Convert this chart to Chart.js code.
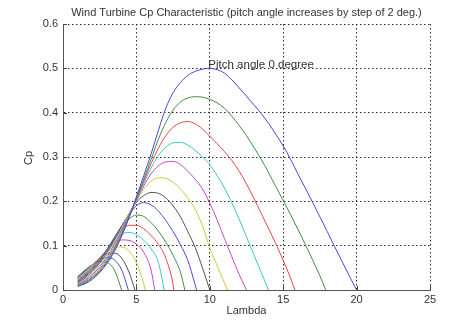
<!DOCTYPE html>
<html>
<head>
<meta charset="utf-8">
<script src="https://cdn.jsdelivr.net/npm/chart.js@4.4.1/dist/chart.umd.min.js"></script>
<style>
  html, body { margin: 0; padding: 0; background: #ffffff; }
  canvas { display: block; }
</style>
</head>
<body>
<canvas id="cpChart" width="474" height="325"></canvas>
<script>
// Tip speed ratio grid shared by every curve (step 0.5 starting at 1)
const lambdaStart = 1;
const lambdaStep = 0.5;

// Pitch angles in degrees, one curve each
const pitchAngles = [0, 2, 4, 6, 8, 10, 12, 14, 16, 18, 20, 22, 24, 26, 28, 30];

// Tip speed ratio where each curve reaches Cp = 0
const zeroLambda = [20, 17.9, 15.8, 14.0, 12.5, 11.2, 10.0, 9.1, 8.3, 7.55, 6.9, 6.25, 5.6, 4.9, 4.45, 4.0];

// Power coefficient for each pitch angle, on the lambda grid
const cpPitch0  = [0.008,0.014,0.024,0.039,0.060,0.087,0.122,0.163,0.210,0.258,0.307,0.360,0.410,0.445,0.468,0.484,0.493,0.498,0.500,0.497,0.489,0.474,0.456,0.437,0.418,0.398,0.376,0.351,0.325,0.295,0.262,0.230,0.198,0.165,0.132,0.098,0.065,0.032];
const cpPitch2  = [0.010,0.016,0.027,0.042,0.063,0.090,0.125,0.165,0.207,0.250,0.295,0.340,0.378,0.406,0.424,0.433,0.436,0.435,0.430,0.422,0.410,0.392,0.371,0.348,0.322,0.295,0.265,0.233,0.202,0.170,0.137,0.103,0.068,0.032];
const cpPitch4  = [0.011,0.018,0.029,0.045,0.066,0.094,0.128,0.166,0.205,0.245,0.285,0.320,0.348,0.367,0.377,0.380,0.375,0.363,0.347,0.330,0.312,0.292,0.268,0.239,0.207,0.173,0.139,0.104,0.067,0.027];
const cpPitch6  = [0.012,0.020,0.032,0.048,0.070,0.098,0.132,0.168,0.203,0.240,0.275,0.303,0.322,0.332,0.333,0.327,0.315,0.300,0.283,0.258,0.230,0.197,0.160,0.120,0.080,0.040];
const cpPitch8  = [0.013,0.022,0.035,0.052,0.075,0.103,0.136,0.170,0.202,0.235,0.262,0.280,0.289,0.290,0.283,0.268,0.250,0.228,0.196,0.158,0.116,0.075,0.035];
const cpPitch10 = [0.014,0.024,0.038,0.056,0.080,0.108,0.140,0.172,0.200,0.228,0.245,0.253,0.252,0.243,0.228,0.208,0.182,0.145,0.095,0.055,0.016];
const cpPitch12 = [0.016,0.027,0.042,0.061,0.085,0.113,0.143,0.172,0.198,0.213,0.220,0.218,0.208,0.190,0.165,0.132,0.096,0.050];
const cpPitch14 = [0.018,0.030,0.045,0.065,0.090,0.118,0.145,0.170,0.190,0.197,0.192,0.178,0.157,0.132,0.102,0.067,0.012];
const cpPitch16 = [0.020,0.032,0.048,0.068,0.092,0.118,0.142,0.160,0.169,0.166,0.152,0.133,0.108,0.078,0.040];
const cpPitch18 = [0.022,0.034,0.050,0.070,0.092,0.115,0.135,0.146,0.146,0.138,0.123,0.103,0.072,0.012];
const cpPitch20 = [0.024,0.036,0.052,0.070,0.090,0.110,0.126,0.130,0.125,0.112,0.093,0.062];
const cpPitch22 = [0.026,0.038,0.054,0.072,0.090,0.105,0.113,0.112,0.103,0.085,0.045];
const cpPitch24 = [0.027,0.040,0.056,0.073,0.088,0.097,0.097,0.088,0.062,0.014];
const cpPitch26 = [0.028,0.042,0.057,0.072,0.082,0.083,0.072,0.040];
const cpPitch28 = [0.029,0.043,0.057,0.068,0.073,0.068,0.045];
const cpPitch30 = [0.030,0.045,0.057,0.064,0.062,0.045];

const cpSeries = [cpPitch0, cpPitch2, cpPitch4, cpPitch6, cpPitch8, cpPitch10, cpPitch12, cpPitch14,
                  cpPitch16, cpPitch18, cpPitch20, cpPitch22, cpPitch24, cpPitch26, cpPitch28, cpPitch30];

// Axis tick labels
const xTickLabels = ['0', '5', '10', '15', '20', '25'];
const yTickLabels = ['0', '0.1', '0.2', '0.3', '0.4', '0.5', '0.6'];

// Cycling line colours
const lineColors = ['#4646e0', '#3f8f3f', '#ef4242', '#38c6c6', '#c646c6', '#c9c93c', '#505050'];

const FONT = "'Liberation Sans', Arial, Helvetica, sans-serif";
const TEXT_COLOR = '#333333';

const datasets = pitchAngles.map((beta, i) => {
  const pts = cpSeries[i].map((cp, k) => ({ x: lambdaStart + k * lambdaStep, y: cp }));
  pts.push({ x: zeroLambda[i], y: 0 });
  return {
    label: 'Pitch ' + beta + ' deg',
    data: pts,
    borderColor: lineColors[i % lineColors.length],
    borderWidth: 1,
    pointRadius: 0,
    fill: false,
    cubicInterpolationMode: 'monotone'
  };
});

// Short inward tick marks on the left and bottom axes
const innerTicksPlugin = {
  id: 'innerTicks',
  afterDatasetsDraw(chart) {
    const ctx = chart.ctx;
    const area = chart.chartArea;
    ctx.save();
    ctx.strokeStyle = '#444444';
    ctx.lineWidth = 1;
    ctx.beginPath();
    chart.scales.x.ticks.forEach((t) => {
      const px = Math.round(chart.scales.x.getPixelForValue(t.value)) + 0.5;
      ctx.moveTo(px, area.bottom);
      ctx.lineTo(px, area.bottom - 4);
    });
    chart.scales.y.ticks.forEach((t) => {
      const py = Math.round(chart.scales.y.getPixelForValue(t.value)) + 0.5;
      ctx.moveTo(area.left, py);
      ctx.lineTo(area.left + 4, py);
    });
    ctx.stroke();
    ctx.restore();
  }
};

// Title, axis names and the curve annotation
const labelsPlugin = {
  id: 'plotTexts',
  afterDraw(chart) {
    const ctx = chart.ctx;
    const area = chart.chartArea;
    const xs = chart.scales.x, ys = chart.scales.y;
    ctx.save();
    ctx.fillStyle = TEXT_COLOR;
    ctx.font = '11px ' + FONT;
    ctx.textAlign = 'center';
    ctx.textBaseline = 'middle';
    ctx.fillText('Wind Turbine Cp Characteristic (pitch angle increases by step of 2 deg.)', (area.left + area.right) / 2, 13);
    ctx.fillText('Lambda', (area.left + area.right) / 2, 311);
    ctx.save();
    ctx.translate(29, (area.top + area.bottom) / 2 + 1);
    ctx.rotate(-Math.PI / 2);
    ctx.fillText('Cp', 0, 0);
    ctx.restore();
    ctx.textAlign = 'left';
    ctx.font = '11.5px ' + FONT;
    ctx.fillText('Pitch angle 0 degree', xs.getPixelForValue(9.9), ys.getPixelForValue(0.507));
    ctx.restore();
  }
};

new Chart(document.getElementById('cpChart'), {
  type: 'line',
  data: { datasets },
  plugins: [innerTicksPlugin, labelsPlugin],
  options: {
    responsive: false,
    animation: false,
    devicePixelRatio: 1,
    layout: { padding: { left: 0, right: 44, top: 24, bottom: 0 } },
    plugins: {
      legend: { display: false },
      tooltip: { enabled: false },
      title: { display: false }
    },
    scales: {
      x: {
        type: 'linear',
        min: 0,
        max: 25,
        ticks: {
          stepSize: 5,
          color: TEXT_COLOR,
          font: { family: FONT, size: 11 },
          padding: 3,
          maxRotation: 0,
          callback: (v) => xTickLabels[Math.round(v / 5)]
        },
        grid: { color: '#2a2a2a', lineWidth: 1, drawTicks: false },
        border: { display: true, color: '#555555', width: 1, dash: [1.5, 2.5] },
        afterFit(scale) { scale.height = 35; }
      },
      y: {
        type: 'linear',
        min: 0,
        max: 0.6,
        ticks: {
          stepSize: 0.1,
          color: TEXT_COLOR,
          font: { family: FONT, size: 11 },
          padding: 5,
          callback: (v) => yTickLabels[Math.round(v * 10)]
        },
        grid: { color: '#2a2a2a', lineWidth: 1, drawTicks: false },
        border: { display: true, color: '#555555', width: 1, dash: [1.5, 2.5] },
        afterFit(scale) { scale.width = 63; }
      }
    }
  }
});
</script>
</body>
</html>
